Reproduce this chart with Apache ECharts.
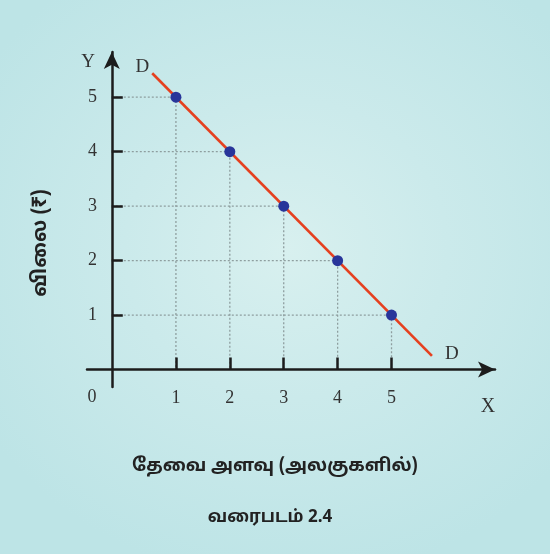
<!DOCTYPE html>
<html>
<head>
<meta charset="utf-8">
<script src="https://cdn.jsdelivr.net/npm/echarts@6/dist/echarts.min.js"></script>
<style>
    html, body { margin: 0; padding: 0; }
    #chart {
        width: 550px;
        height: 554px;
        background: radial-gradient(ellipse 65% 60% at 52% 45%, #d8f0ef 0%, #cbeaeb 45%, #bde4e6 100%);
    }
</style>
</head>
<body>
<div id="chart"></div>
<script>
// demand schedule points
const quantity = [1, 2, 3, 4, 5];
const price = [5, 4, 3, 2, 1];
// demand curve DD end points
const demandX = [0.56, 5.75];
const demandY = [5.44, 0.25];
const tickValues = [1, 2, 3, 4, 5];

// axis ranges (x = 0 is a little right of the drawn y axis)
const xMin = -0.65, xMax = 6.92;
const yMin = -0.32, yMax = 5.83;
const yAxisAt = -0.19;

const serif = '"Liberation Serif", "DejaVu Serif", serif';
const sans = '"Noto Sans Tamil", "Lohit Tamil", "Noto Sans", "DejaVu Sans", sans-serif';

const myChart = echarts.init(document.getElementById('chart'));

// dotted guides: from y axis across to the point, then down to x axis
const guideSeries = quantity.map((q, i) => ({
    type: 'line',
    data: [[yAxisAt, price[i]], [q, price[i]], [q, 0]],
    symbol: 'none',
    silent: true,
    z: 1,
    lineStyle: { color: '#8e9e9f', width: 1.3, type: [2, 2] }
}));

myChart.setOption({
    animation: false,
    backgroundColor: 'transparent',
    grid: { left: 87, right: 55, top: 52, bottom: 167 },
    xAxis: [{
        type: 'value',
        min: xMin,
        max: xMax,
        z: 10,
        axisLine: {
            onZero: true,
            symbol: ['none', 'arrow'],
            symbolSize: [12, 17],
            lineStyle: { color: '#1c1c1c', width: 2.5 }
        },
        axisTick: {
            inside: true,
            length: 12,
            customValues: tickValues,
            lineStyle: { color: '#1c1c1c', width: 2.5 }
        },
        axisLabel: {
            customValues: tickValues,
            margin: 2,
            fontFamily: serif,
            fontSize: 18,
            color: '#333'
        },
        splitLine: { show: false }
    }, {
        // helper axis so the y axis line sits at yAxisAt
        type: 'value',
        show: false,
        min: xMin - yAxisAt,
        max: xMax - yAxisAt
    }],
    yAxis: {
        type: 'value',
        min: yMin,
        max: yMax,
        z: 10,
        axisLine: {
            onZero: true,
            onZeroAxisIndex: 1,
            symbol: ['none', 'arrow'],
            symbolSize: [12, 17],
            lineStyle: { color: '#1c1c1c', width: 2.5 }
        },
        axisTick: {
            inside: true,
            length: 11,
            customValues: tickValues,
            lineStyle: { color: '#1c1c1c', width: 2.5 }
        },
        axisLabel: {
            customValues: tickValues,
            margin: -10,
            fontFamily: serif,
            fontSize: 18,
            color: '#333'
        },
        splitLine: { show: false }
    },
    series: [
        ...guideSeries,
        {
            name: 'DD',
            type: 'line',
            data: demandX.map((x, i) => ({
                value: [x, demandY[i]],
                label: i === 0
                    ? { show: true, position: 'left', distance: 3, offset: [0, -6] }
                    : { show: true, position: 'right', distance: 13, offset: [0, -2] }
            })),
            symbol: 'circle',
            symbolSize: 0,
            showSymbol: true,
            z: 2,
            lineStyle: { color: '#e5401f', width: 2.6 },
            label: {
                formatter: 'D',
                fontFamily: serif,
                fontSize: 19,
                color: '#333'
            }
        },
        {
            type: 'scatter',
            data: quantity.map((q, i) => [q, price[i]]),
            symbolSize: 11,
            z: 3,
            itemStyle: { color: '#28359a', opacity: 1 }
        }
    ],
    graphic: [
        { type: 'text', x: 88, y: 62, style: { text: 'Y', font: '19px ' + serif, fill: '#333', align: 'center', verticalAlign: 'middle' } },
        { type: 'text', x: 92, y: 397, style: { text: '0', font: '18px ' + serif, fill: '#333', align: 'center', verticalAlign: 'middle' } },
        { type: 'text', x: 488, y: 407, style: { text: 'X', font: '20px ' + serif, fill: '#333', align: 'center', verticalAlign: 'middle' } },
        {
            type: 'text', x: 42, y: 243, rotation: Math.PI / 2,
            style: { text: 'விலை (₹)', font: 'bold 20px ' + sans, fill: '#222', align: 'center', verticalAlign: 'middle' }
        },
        { type: 'text', x: 275, y: 467, style: { text: 'தேவை அளவு (அலகுகளில்)', font: 'bold 18px ' + sans, fill: '#222', align: 'center', verticalAlign: 'middle' } },
        { type: 'text', x: 270, y: 519, style: { text: 'வரைபடம் 2.4', font: 'bold 17px ' + sans, fill: '#222', align: 'center', verticalAlign: 'middle' } }
    ]
});
</script>
</body>
</html>
